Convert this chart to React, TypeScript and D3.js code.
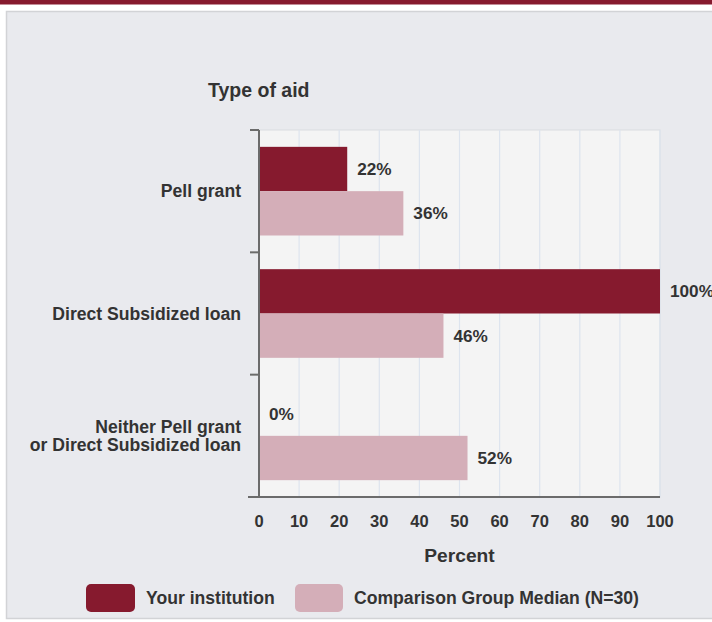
import React from "react";
import * as d3 from "d3";

const categories: string[][] = [
  ["Pell grant"],
  ["Direct Subsidized loan"],
  ["Neither Pell grant", "or Direct Subsidized loan"],
];
const categoryKeys = ["pell", "direct", "neither"];
const yourInstitution = [22, 100, 0];
const comparisonMedian = [36, 46, 52];
const seriesNames = ["Your institution", "Comparison Group Median (N=30)"];
const xTickValues = [0, 10, 20, 30, 40, 50, 60, 70, 80, 90, 100];

const DARK = "#861a2e";
const LIGHT = "#d4aeb8";
const TEXT = "#333333";
const FONT = "'Liberation Sans', Arial, sans-serif";

export default function App() {
  const W = 712;
  const H = 622;
  const left = 259;
  const right = 660;
  const top = 130;
  const bottom = 497;

  const x = d3.scaleLinear().domain([0, 100]).range([left, right]);
  const y = d3.scaleBand<string>().domain(categoryKeys).range([top, bottom]).padding(0);
  const inner = d3
    .scaleBand<number>()
    .domain([0, 1])
    .range([0, y.bandwidth()])
    .paddingInner(0)
    .paddingOuter(0.38);

  const series = [yourInstitution, comparisonMedian];
  const colors = [DARK, LIGHT];

  return (
    <div style={{ position: "fixed", left: 0, top: 0, width: W, height: H }}>
      <svg width={W} height={H} style={{ display: "block", fontFamily: FONT }}>
        <rect x={0} y={0} width={W} height={H} fill="#ffffff" />
        <rect x={0} y={0} width={W} height={4.5} fill={DARK} />
        <rect x={6.5} y={11.5} width={W + 20} height={607} fill="#e9eaee" stroke="#d2d3d6" strokeWidth={1.5} />

        {/* plot background */}
        <rect x={left} y={top} width={right - left} height={bottom - top} fill="#f4f4f4" stroke="#d9dce0" strokeWidth={1} />

        {/* gridlines */}
        {xTickValues.map((t) => (
          <line key={"g" + t} x1={x(t)} x2={x(t)} y1={top} y2={bottom} stroke="#dde4ee" strokeWidth={1.2} />
        ))}

        {/* bars */}
        {categoryKeys.map((k, i) =>
          series.map((s, j) => (
            <rect
              key={k + j}
              x={x(0)}
              y={(y(k) as number) + (inner(j) as number)}
              width={x(s[i]) - x(0)}
              height={inner.bandwidth()}
              fill={colors[j]}
            />
          ))
        )}

        {/* value labels */}
        {categoryKeys.map((k, i) =>
          series.map((s, j) => (
            <text
              key={"v" + k + j}
              x={x(s[i]) + 10}
              y={(y(k) as number) + (inner(j) as number) + inner.bandwidth() / 2}
              dy="0.35em"
              fontSize={17.2}
              fontWeight="bold"
              fill={TEXT}
            >
              {s[i] + "%"}
            </text>
          ))
        )}

        {/* axes */}
        <line x1={left} x2={left} y1={top} y2={bottom} stroke="#6b6b6b" strokeWidth={2} />
        <line x1={248} x2={right} y1={bottom} y2={bottom} stroke="#6b6b6b" strokeWidth={2} />
        {[...categoryKeys.map((k) => y(k) as number), bottom].map((v, i) => (
          <line key={"t" + i} x1={250} x2={left} y1={v} y2={v} stroke="#6b6b6b" strokeWidth={2} />
        ))}

        {/* category labels */}
        {categoryKeys.map((k, i) => {
          const cy = (y(k) as number) + y.bandwidth() / 2;
          const lines = categories[i];
          const lh = 18;
          return (
            <text key={"c" + k} textAnchor="end" fontSize={17.6} fontWeight="bold" fill={TEXT}>
              {lines.map((ln, li) => (
                <tspan key={li} x={241} y={cy + (li - (lines.length - 1) / 2) * lh} dy="0.35em">
                  {ln}
                </tspan>
              ))}
            </text>
          );
        })}

        {/* x tick labels */}
        {xTickValues.map((t) => (
          <text key={"xl" + t} x={x(t)} y={527} textAnchor="middle" fontSize={16.5} fontWeight="bold" fill={TEXT}>
            {t}
          </text>
        ))}

        <text x={(left + right) / 2} y={561.5} textAnchor="middle" fontSize={19.2} fontWeight="bold" fill={TEXT}>
          Percent
        </text>
        <text x={208} y={97} fontSize={19.5} fontWeight="bold" fill={TEXT}>
          Type of aid
        </text>

        {/* legend */}
        <rect x={86} y={584} width={49} height={28} rx={5} fill={DARK} />
        <text x={146} y={604} fontSize={17.6} fontWeight="bold" fill={TEXT}>
          {seriesNames[0]}
        </text>
        <rect x={295} y={584} width={48} height={28} rx={5} fill={LIGHT} />
        <text x={354} y={604} fontSize={17.6} fontWeight="bold" fill={TEXT}>
          {seriesNames[1]}
        </text>
      </svg>
    </div>
  );
}
